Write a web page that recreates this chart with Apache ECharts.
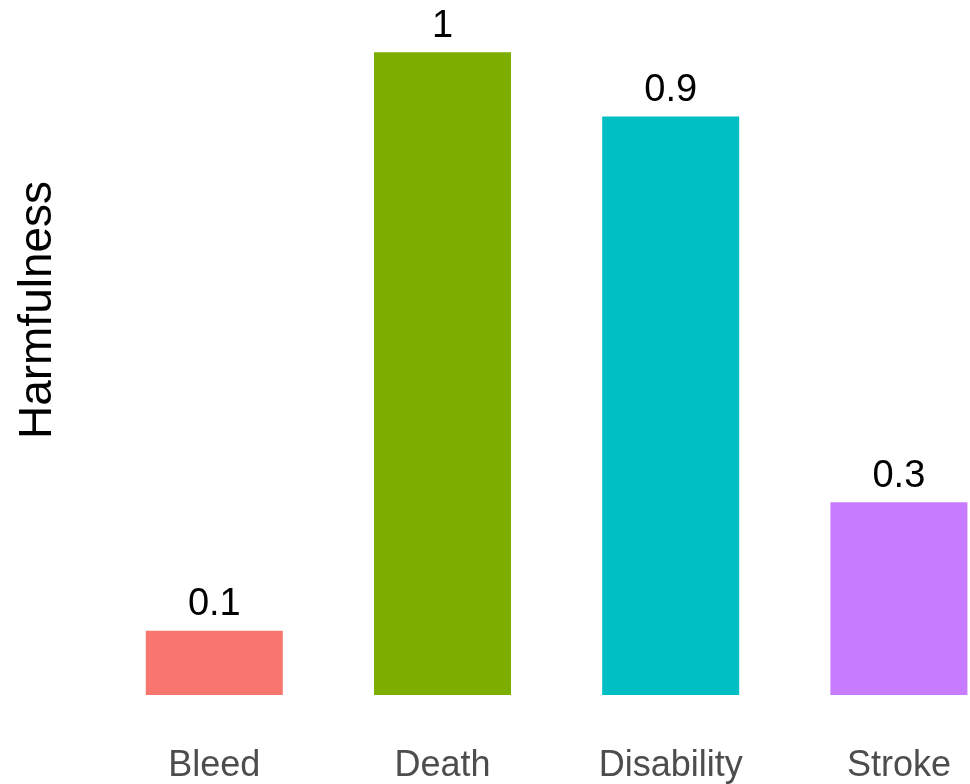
<!DOCTYPE html>
<html>
<head>
<meta charset="utf-8">
<script src="https://cdn.jsdelivr.net/npm/echarts@6/dist/echarts.min.js"></script>
<style>html,body{margin:0;padding:0;background:#fff;overflow:hidden;width:970px;height:784px}#c{width:1013px;height:784px}</style>
</head>
<body>
<div id="c"></div>
<script>
const categories = ["Bleed", "Death", "Disability", "Stroke"];
const harmfulness = [0.1, 1, 0.9, 0.3];
const barColors = ["#F8766D", "#7CAE00", "#00BFC4", "#C77CFF"];
const yTitle = "Harmfulness";

const chart = echarts.init(document.getElementById('c'), null, {renderer: 'canvas', width: 1013, height: 784});
const FONT = '"Liberation Sans", Arial, Helvetica, sans-serif';
chart.setOption({
  animation: false,
  backgroundColor: '#ffffff',
  grid: { left: 100.2, top: 52.3, right: 0, bottom: 89, containLabel: false },
  xAxis: {
    type: 'category',
    data: categories,
    axisLine: { show: false },
    axisTick: { show: false },
    splitLine: { show: false },
    axisLabel: { color: '#4D4D4D', fontSize: 36, fontFamily: FONT, margin: 53, interval: 0 }
  },
  yAxis: {
    type: 'value',
    min: 0,
    max: 1,
    show: false,
    splitLine: { show: false }
  },
  graphic: [{
    type: 'text',
    x: 38,
    y: 310,
    rotation: Math.PI / 2,
    style: {
      text: yTitle,
      fill: '#000000',
      font: '46px ' + FONT,
      textAlign: 'center',
      textVerticalAlign: 'middle'
    }
  }],
  series: [{
    type: 'bar',
    data: harmfulness.map((v, i) => ({ value: v, itemStyle: { color: barColors[i] } })),
    barWidth: 137,
    label: {
      show: true,
      position: 'top',
      distance: 7,
      color: '#000000',
      fontSize: 38,
      fontFamily: FONT
    }
  }]
});
</script>
</body>
</html>
